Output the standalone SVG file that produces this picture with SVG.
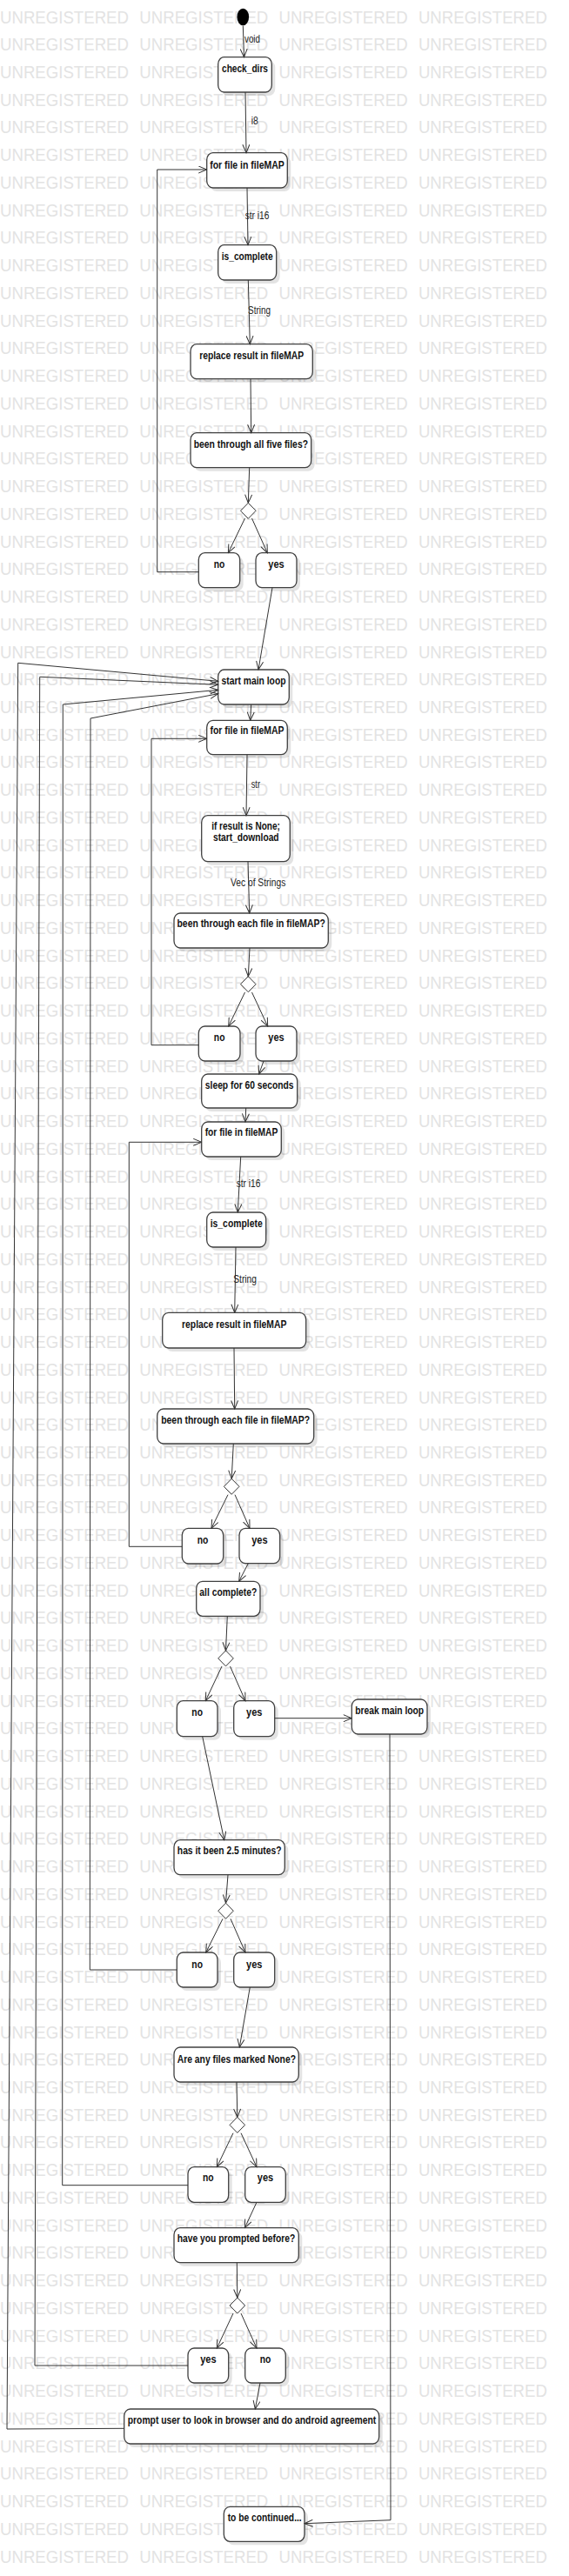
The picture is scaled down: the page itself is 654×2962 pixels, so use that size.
<svg xmlns="http://www.w3.org/2000/svg" xmlns:xlink="http://www.w3.org/1999/xlink" width="654" height="2962" viewBox="0 0 654 2962">
<style>
.wm{font-family:"Liberation Sans",Arial,sans-serif;font-size:20.6px;fill:#e3e3e3}
.sh{fill:#000;fill-opacity:.11}
.b{fill:#fff;stroke:#404040;stroke-width:1.3}
.t{font-family:"Liberation Sans",Arial,sans-serif;font-weight:bold;font-size:13px;fill:#111;text-anchor:middle}
.c path{fill:none;stroke:#333;stroke-width:1;marker-end:url(#a)}
.l{font-family:"Liberation Sans",Arial,sans-serif;font-size:12px;fill:#222}
.dm{fill:#fff;stroke:#333;stroke-width:1}
</style>
<defs>
<marker id="a" viewBox="0 0 11 9" refX="10" refY="4.5" markerWidth="11" markerHeight="9" markerUnits="userSpaceOnUse" orient="auto"><path d="M0.5,0.5 L10,4.5 L0.5,8.5" fill="none" stroke="#333" stroke-width="1"/></marker>
<g id="wm" class="wm"><text x="0" y="0" textLength="148" lengthAdjust="spacingAndGlyphs">UNREGISTERED</text><text x="160.3" y="0" textLength="148" lengthAdjust="spacingAndGlyphs">UNREGISTERED</text><text x="320.6" y="0" textLength="148" lengthAdjust="spacingAndGlyphs">UNREGISTERED</text><text x="480.9" y="0" textLength="148" lengthAdjust="spacingAndGlyphs">UNREGISTERED</text></g>
</defs>
<rect width="654" height="2962" fill="#fff"/>
<g id="watermark">
<use xlink:href="#wm" y="26.5"/><use xlink:href="#wm" y="58.24"/><use xlink:href="#wm" y="89.98"/><use xlink:href="#wm" y="121.72"/><use xlink:href="#wm" y="153.46"/><use xlink:href="#wm" y="185.2"/><use xlink:href="#wm" y="216.94"/><use xlink:href="#wm" y="248.68"/><use xlink:href="#wm" y="280.42"/><use xlink:href="#wm" y="312.16"/>
<use xlink:href="#wm" y="343.9"/><use xlink:href="#wm" y="375.64"/><use xlink:href="#wm" y="407.38"/><use xlink:href="#wm" y="439.12"/><use xlink:href="#wm" y="470.86"/><use xlink:href="#wm" y="502.6"/><use xlink:href="#wm" y="534.34"/><use xlink:href="#wm" y="566.08"/><use xlink:href="#wm" y="597.82"/><use xlink:href="#wm" y="629.56"/>
<use xlink:href="#wm" y="661.3"/><use xlink:href="#wm" y="693.04"/><use xlink:href="#wm" y="724.78"/><use xlink:href="#wm" y="756.52"/><use xlink:href="#wm" y="788.26"/><use xlink:href="#wm" y="820"/><use xlink:href="#wm" y="851.74"/><use xlink:href="#wm" y="883.48"/><use xlink:href="#wm" y="915.22"/><use xlink:href="#wm" y="946.96"/>
<use xlink:href="#wm" y="978.7"/><use xlink:href="#wm" y="1010.44"/><use xlink:href="#wm" y="1042.18"/><use xlink:href="#wm" y="1073.92"/><use xlink:href="#wm" y="1105.66"/><use xlink:href="#wm" y="1137.4"/><use xlink:href="#wm" y="1169.14"/><use xlink:href="#wm" y="1200.88"/><use xlink:href="#wm" y="1232.62"/><use xlink:href="#wm" y="1264.36"/>
<use xlink:href="#wm" y="1296.1"/><use xlink:href="#wm" y="1327.84"/><use xlink:href="#wm" y="1359.58"/><use xlink:href="#wm" y="1391.32"/><use xlink:href="#wm" y="1423.06"/><use xlink:href="#wm" y="1454.8"/><use xlink:href="#wm" y="1486.54"/><use xlink:href="#wm" y="1518.28"/><use xlink:href="#wm" y="1550.02"/><use xlink:href="#wm" y="1581.76"/>
<use xlink:href="#wm" y="1613.5"/><use xlink:href="#wm" y="1645.24"/><use xlink:href="#wm" y="1676.98"/><use xlink:href="#wm" y="1708.72"/><use xlink:href="#wm" y="1740.46"/><use xlink:href="#wm" y="1772.2"/><use xlink:href="#wm" y="1803.94"/><use xlink:href="#wm" y="1835.68"/><use xlink:href="#wm" y="1867.42"/><use xlink:href="#wm" y="1899.16"/>
<use xlink:href="#wm" y="1930.9"/><use xlink:href="#wm" y="1962.64"/><use xlink:href="#wm" y="1994.38"/><use xlink:href="#wm" y="2026.12"/><use xlink:href="#wm" y="2057.86"/><use xlink:href="#wm" y="2089.6"/><use xlink:href="#wm" y="2121.34"/><use xlink:href="#wm" y="2153.08"/><use xlink:href="#wm" y="2184.82"/><use xlink:href="#wm" y="2216.56"/>
<use xlink:href="#wm" y="2248.3"/><use xlink:href="#wm" y="2280.04"/><use xlink:href="#wm" y="2311.78"/><use xlink:href="#wm" y="2343.52"/><use xlink:href="#wm" y="2375.26"/><use xlink:href="#wm" y="2407"/><use xlink:href="#wm" y="2438.74"/><use xlink:href="#wm" y="2470.48"/><use xlink:href="#wm" y="2502.22"/><use xlink:href="#wm" y="2533.96"/>
<use xlink:href="#wm" y="2565.7"/><use xlink:href="#wm" y="2597.44"/><use xlink:href="#wm" y="2629.18"/><use xlink:href="#wm" y="2660.92"/><use xlink:href="#wm" y="2692.66"/><use xlink:href="#wm" y="2724.4"/><use xlink:href="#wm" y="2756.14"/><use xlink:href="#wm" y="2787.88"/><use xlink:href="#wm" y="2819.62"/><use xlink:href="#wm" y="2851.36"/>
<use xlink:href="#wm" y="2883.1"/><use xlink:href="#wm" y="2914.84"/><use xlink:href="#wm" y="2946.58"/>
</g>

<g id="n_start"><ellipse cx="279.3" cy="19.5" rx="6.8" ry="9.8" fill="#000"/></g>
<g id="n_check_dirs"><rect class="sh" x="254.7" y="69.7" width="61.6" height="40.3" rx="7" ry="8"/><rect class="b" x="250.7" y="65.7" width="61.6" height="40.3" rx="7" ry="8"/><text class="t" x="281.5" y="83.3" textLength="53" lengthAdjust="spacingAndGlyphs">check_dirs</text></g>
<g id="n_for1"><rect class="sh" x="241.7" y="179.7" width="92.6" height="40.3" rx="7" ry="8"/><rect class="b" x="237.7" y="175.7" width="92.6" height="40.3" rx="7" ry="8"/><text class="t" x="284" y="194" textLength="85.7" lengthAdjust="spacingAndGlyphs">for file in fileMAP</text></g>
<g id="n_is_complete1"><rect class="sh" x="254.7" y="285.7" width="67" height="40.3" rx="7" ry="8"/><rect class="b" x="250.7" y="281.7" width="67" height="40.3" rx="7" ry="8"/><text class="t" x="284.2" y="298.5" textLength="59" lengthAdjust="spacingAndGlyphs">is_complete</text></g>
<g id="n_replace1"><rect class="sh" x="223" y="399.7" width="140.3" height="40" rx="7" ry="8"/><rect class="b" x="219" y="395.7" width="140.3" height="40" rx="7" ry="8"/><text class="t" x="289.15" y="412.7" textLength="120" lengthAdjust="spacingAndGlyphs">replace result in fileMAP</text></g>
<g id="n_been1"><rect class="sh" x="223" y="501.7" width="138.7" height="40" rx="7" ry="8"/><rect class="b" x="219" y="497.7" width="138.7" height="40" rx="7" ry="8"/><text class="t" x="288.35" y="515" textLength="131.3" lengthAdjust="spacingAndGlyphs">been through all five files?</text></g>
<g id="n_d1"><polygon class="dm" points="285.3,578.3 294.1,587.3 285.3,596.3 276.5,587.3"/></g>
<g id="n_no1"><rect class="sh" x="232.3" y="639.7" width="47.4" height="40" rx="7" ry="8"/><rect class="b" x="228.3" y="635.7" width="47.4" height="40" rx="7" ry="8"/><text class="t" x="252" y="653.3" textLength="12.6" lengthAdjust="spacingAndGlyphs">no</text></g>
<g id="n_yes1"><rect class="sh" x="298" y="639.7" width="47" height="40" rx="7" ry="8"/><rect class="b" x="294" y="635.7" width="47" height="40" rx="7" ry="8"/><text class="t" x="317.5" y="653.3" textLength="18.4" lengthAdjust="spacingAndGlyphs">yes</text></g>
<g id="n_main"><rect class="sh" x="254.7" y="774" width="81.6" height="40" rx="7" ry="8"/><rect class="b" x="250.7" y="770" width="81.6" height="40" rx="7" ry="8"/><text class="t" x="291.5" y="786.7" textLength="74" lengthAdjust="spacingAndGlyphs">start main loop</text></g>
<g id="n_for2"><rect class="sh" x="241.7" y="832.3" width="92.6" height="39.4" rx="7" ry="8"/><rect class="b" x="237.7" y="828.3" width="92.6" height="39.4" rx="7" ry="8"/><text class="t" x="284" y="844.3" textLength="85" lengthAdjust="spacingAndGlyphs">for file in fileMAP</text></g>
<g id="n_ifresult"><rect class="sh" x="235.7" y="941.7" width="101.6" height="53" rx="7" ry="8"/><rect class="b" x="231.7" y="937.7" width="101.6" height="53" rx="7" ry="8"/><text class="t" x="282.5" y="954" textLength="78.7" lengthAdjust="spacingAndGlyphs">if result is None;</text><text class="t" x="282.8" y="966.7" textLength="75.7" lengthAdjust="spacingAndGlyphs">start_download</text></g>
<g id="n_been2"><rect class="sh" x="204" y="1054" width="177.3" height="40" rx="7" ry="8"/><rect class="b" x="200" y="1050" width="177.3" height="40" rx="7" ry="8"/><text class="t" x="288.65" y="1066" textLength="170.3" lengthAdjust="spacingAndGlyphs">been through each file in fileMAP?</text></g>
<g id="n_d2"><polygon class="dm" points="285.3,1122.7 294.1,1131.7 285.3,1140.7 276.5,1131.7"/></g>
<g id="n_no2"><rect class="sh" x="232.3" y="1184" width="47.7" height="40" rx="7" ry="8"/><rect class="b" x="228.3" y="1180" width="47.7" height="40" rx="7" ry="8"/><text class="t" x="252.15" y="1196.7" textLength="12.6" lengthAdjust="spacingAndGlyphs">no</text></g>
<g id="n_yes2"><rect class="sh" x="298" y="1184" width="47" height="40" rx="7" ry="8"/><rect class="b" x="294" y="1180" width="47" height="40" rx="7" ry="8"/><text class="t" x="317.5" y="1196.7" textLength="18.4" lengthAdjust="spacingAndGlyphs">yes</text></g>
<g id="n_sleep"><rect class="sh" x="235.7" y="1239" width="110" height="39" rx="7" ry="8"/><rect class="b" x="231.7" y="1235" width="110" height="39" rx="7" ry="8"/><text class="t" x="286.7" y="1251.5" textLength="101.7" lengthAdjust="spacingAndGlyphs">sleep for 60 seconds</text></g>
<g id="n_for3"><rect class="sh" x="235.7" y="1294" width="91.6" height="40" rx="7" ry="8"/><rect class="b" x="231.7" y="1290" width="91.6" height="40" rx="7" ry="8"/><text class="t" x="277.5" y="1306" textLength="83.7" lengthAdjust="spacingAndGlyphs">for file in fileMAP</text></g>
<g id="n_is_complete2"><rect class="sh" x="241.7" y="1398" width="68" height="40" rx="7" ry="8"/><rect class="b" x="237.7" y="1394" width="68" height="40" rx="7" ry="8"/><text class="t" x="271.7" y="1410.5" textLength="60" lengthAdjust="spacingAndGlyphs">is_complete</text></g>
<g id="n_replace2"><rect class="sh" x="190.7" y="1513.3" width="165" height="40.7" rx="7" ry="8"/><rect class="b" x="186.7" y="1509.3" width="165" height="40.7" rx="7" ry="8"/><text class="t" x="269.2" y="1526.7" textLength="120.3" lengthAdjust="spacingAndGlyphs">replace result in fileMAP</text></g>
<g id="n_been3"><rect class="sh" x="184.7" y="1624" width="180" height="40" rx="7" ry="8"/><rect class="b" x="180.7" y="1620" width="180" height="40" rx="7" ry="8"/><text class="t" x="270.7" y="1636.7" textLength="171" lengthAdjust="spacingAndGlyphs">been through each file in fileMAP?</text></g>
<g id="n_d3"><polygon class="dm" points="266.2,1700.3 275,1709.3 266.2,1718.3 257.4,1709.3"/></g>
<g id="n_no3"><rect class="sh" x="213.3" y="1761.3" width="47.4" height="40.7" rx="7" ry="8"/><rect class="b" x="209.3" y="1757.3" width="47.4" height="40.7" rx="7" ry="8"/><text class="t" x="233" y="1775" textLength="12.6" lengthAdjust="spacingAndGlyphs">no</text></g>
<g id="n_yes3"><rect class="sh" x="279" y="1761.3" width="46.7" height="40.4" rx="7" ry="8"/><rect class="b" x="275" y="1757.3" width="46.7" height="40.4" rx="7" ry="8"/><text class="t" x="298.35" y="1775" textLength="18.4" lengthAdjust="spacingAndGlyphs">yes</text></g>
<g id="n_allcomplete"><rect class="sh" x="229.7" y="1822.3" width="73.3" height="40" rx="7" ry="8"/><rect class="b" x="225.7" y="1818.3" width="73.3" height="40" rx="7" ry="8"/><text class="t" x="262.35" y="1835" textLength="66" lengthAdjust="spacingAndGlyphs">all complete?</text></g>
<g id="n_d4"><polygon class="dm" points="259.5,1897.9 268.3,1906.9 259.5,1915.9 250.7,1906.9"/></g>
<g id="n_no4"><rect class="sh" x="207.3" y="1959.7" width="46.7" height="41" rx="7" ry="8"/><rect class="b" x="203.3" y="1955.7" width="46.7" height="41" rx="7" ry="8"/><text class="t" x="226.65" y="1973.3" textLength="12.6" lengthAdjust="spacingAndGlyphs">no</text></g>
<g id="n_yes4"><rect class="sh" x="272.7" y="1959.7" width="47" height="41" rx="7" ry="8"/><rect class="b" x="268.7" y="1955.7" width="47" height="41" rx="7" ry="8"/><text class="t" x="292.2" y="1973.3" textLength="18.4" lengthAdjust="spacingAndGlyphs">yes</text></g>
<g id="n_break"><rect class="sh" x="408.3" y="1958" width="86.7" height="40" rx="7" ry="8"/><rect class="b" x="404.3" y="1954" width="86.7" height="40" rx="7" ry="8"/><text class="t" x="447.65" y="1970.7" textLength="79" lengthAdjust="spacingAndGlyphs">break main loop</text></g>
<g id="n_minutes"><rect class="sh" x="204" y="2119.7" width="127.3" height="40" rx="7" ry="8"/><rect class="b" x="200" y="2115.7" width="127.3" height="40" rx="7" ry="8"/><text class="t" x="263.65" y="2132.3" textLength="119.6" lengthAdjust="spacingAndGlyphs">has it been 2.5 minutes?</text></g>
<g id="n_d5"><polygon class="dm" points="259.5,2188.2 268.3,2197.2 259.5,2206.2 250.7,2197.2"/></g>
<g id="n_no5"><rect class="sh" x="207.3" y="2249" width="46.7" height="40" rx="7" ry="8"/><rect class="b" x="203.3" y="2245" width="46.7" height="40" rx="7" ry="8"/><text class="t" x="226.65" y="2262.7" textLength="12.6" lengthAdjust="spacingAndGlyphs">no</text></g>
<g id="n_yes5"><rect class="sh" x="272.7" y="2249" width="47" height="40" rx="7" ry="8"/><rect class="b" x="268.7" y="2245" width="47" height="40" rx="7" ry="8"/><text class="t" x="292.2" y="2262.7" textLength="18.4" lengthAdjust="spacingAndGlyphs">yes</text></g>
<g id="n_anynone"><rect class="sh" x="204" y="2358" width="143.3" height="40" rx="7" ry="8"/><rect class="b" x="200" y="2354" width="143.3" height="40" rx="7" ry="8"/><text class="t" x="271.85" y="2371.7" textLength="136.3" lengthAdjust="spacingAndGlyphs">Are any files marked None?</text></g>
<g id="n_d6"><polygon class="dm" points="272.8,2434.4 281.6,2443.4 272.8,2452.4 264,2443.4"/></g>
<g id="n_no6"><rect class="sh" x="220" y="2495.7" width="46.7" height="40.6" rx="7" ry="8"/><rect class="b" x="216" y="2491.7" width="46.7" height="40.6" rx="7" ry="8"/><text class="t" x="239.35" y="2508.3" textLength="12.6" lengthAdjust="spacingAndGlyphs">no</text></g>
<g id="n_yes6"><rect class="sh" x="285.7" y="2495.7" width="46.6" height="40.6" rx="7" ry="8"/><rect class="b" x="281.7" y="2491.7" width="46.6" height="40.6" rx="7" ry="8"/><text class="t" x="305" y="2508.3" textLength="18.4" lengthAdjust="spacingAndGlyphs">yes</text></g>
<g id="n_prompted"><rect class="sh" x="204" y="2565.7" width="143.3" height="40" rx="7" ry="8"/><rect class="b" x="200" y="2561.7" width="143.3" height="40" rx="7" ry="8"/><text class="t" x="271.5" y="2578.3" textLength="135.6" lengthAdjust="spacingAndGlyphs">have you prompted before?</text></g>
<g id="n_d7"><polygon class="dm" points="272.8,2642 281.6,2651 272.8,2660 264,2651"/></g>
<g id="n_yes7"><rect class="sh" x="220" y="2704" width="46.7" height="40" rx="7" ry="8"/><rect class="b" x="216" y="2700" width="46.7" height="40" rx="7" ry="8"/><text class="t" x="239.35" y="2716.7" textLength="18.4" lengthAdjust="spacingAndGlyphs">yes</text></g>
<g id="n_no7"><rect class="sh" x="285.7" y="2704" width="46.6" height="40" rx="7" ry="8"/><rect class="b" x="281.7" y="2700" width="46.6" height="40" rx="7" ry="8"/><text class="t" x="305" y="2716.7" textLength="12.6" lengthAdjust="spacingAndGlyphs">no</text></g>
<g id="n_prompt"><rect class="sh" x="146.7" y="2774" width="293" height="40" rx="7" ry="8"/><rect class="b" x="142.7" y="2770" width="293" height="40" rx="7" ry="8"/><text class="t" x="289.5" y="2786.7" textLength="285.6" lengthAdjust="spacingAndGlyphs">prompt user to look in browser and do android agreement</text></g>
<g id="n_tbc"><rect class="sh" x="261.3" y="2886.3" width="92.7" height="40" rx="7" ry="8"/><rect class="b" x="257.3" y="2882.3" width="92.7" height="40" rx="7" ry="8"/><text class="t" x="304.2" y="2899.3" textLength="85" lengthAdjust="spacingAndGlyphs">to be continued...</text></g>

<g id="connectors" class="c">
<path d="M279.3,29.5 L280.5,65.7"/>
<path d="M282,106 L283,175.7"/>
<path d="M284,216 L285,281.7"/>
<path d="M285.3,322 L287.3,395.7"/>
<path d="M288,435.7 L288.7,497.7"/>
<path d="M286.7,537.7 L285.3,578.3"/>
<path d="M281.5,596 L262.3,635.7"/>
<path d="M289.5,596 L307.3,635.7"/>
<path d="M228.3,657.7 L180.7,657.7 L180.7,195 L237.7,195"/>
<path d="M313,675.7 L297,770"/>
<path d="M288.7,810 L287.7,828.3"/>
<path d="M284,867.7 L283,937.7"/>
<path d="M285,990.7 L286.7,1050"/>
<path d="M287,1090 L285.3,1122.7"/>
<path d="M281.5,1141 L262.7,1180"/>
<path d="M289.5,1141 L307.7,1180"/>
<path d="M228.3,1201.7 L174,1201.7 L174,849.3 L237.7,849.3"/>
<path d="M303,1220 L297.7,1235"/>
<path d="M282.7,1274 L282,1290"/>
<path d="M276.7,1330 L273.3,1394"/>
<path d="M271,1434 L269.7,1509.3"/>
<path d="M269,1550 L269.7,1620"/>
<path d="M268.3,1660 L266.2,1700.3"/>
<path d="M262,1718.7 L243,1757.3"/>
<path d="M270,1718.7 L287,1757.3"/>
<path d="M209.3,1778.3 L148.3,1778.3 L148.3,1313.3 L231.7,1313.3"/>
<path d="M285.3,1797.7 L274.7,1818.3"/>
<path d="M261.3,1858.3 L259.5,1897.9"/>
<path d="M255,1916 L236.3,1955.7"/>
<path d="M264.5,1916 L282,1955.7"/>
<path d="M315.7,1975.7 L404.3,1975.7"/>
<path d="M232.7,1996.7 L257.7,2115.7"/>
<path d="M262,2155.7 L259.5,2188.2"/>
<path d="M256,2206.3 L236.7,2245"/>
<path d="M265,2206.3 L282,2245"/>
<path d="M203.3,2265 L103.3,2265 L104,826 L250.7,797.7"/>
<path d="M287.3,2285 L275.3,2354"/>
<path d="M272,2394 L272.8,2434.4"/>
<path d="M268,2452.7 L249.3,2491.7"/>
<path d="M277,2452.7 L295,2491.7"/>
<path d="M216,2512.7 L71.7,2512.7 L72.3,810 L250.7,793.3"/>
<path d="M295,2532.3 L281.3,2561.7"/>
<path d="M272.3,2601.7 L272.8,2642"/>
<path d="M268,2660 L249.3,2700"/>
<path d="M277,2660 L295,2700"/>
<path d="M216,2720 L40,2720 L45.7,778.3 L250.7,787.3"/>
<path d="M299,2740 L293.3,2770"/>
<path d="M142.7,2792.3 L8,2793 L20.7,762.3 L250.7,783.3"/>
<path d="M448,1994 L449,2897.7 L350,2901.7"/>
</g>
<g id="labels">
<text class="l" x="281" y="49" textLength="18" lengthAdjust="spacingAndGlyphs">void</text>
<text class="l" x="288.7" y="143" textLength="8" lengthAdjust="spacingAndGlyphs">i8</text>
<text class="l" x="281.7" y="251.5" textLength="27.6" lengthAdjust="spacingAndGlyphs">str i16</text>
<text class="l" x="285" y="361" textLength="26" lengthAdjust="spacingAndGlyphs">String</text>
<text class="l" x="288.7" y="906" textLength="10.3" lengthAdjust="spacingAndGlyphs">str</text>
<text class="l" x="265" y="1019" textLength="63.3" lengthAdjust="spacingAndGlyphs">Vec of Strings</text>
<text class="l" x="271.7" y="1365" textLength="27.6" lengthAdjust="spacingAndGlyphs">str i16</text>
<text class="l" x="268.3" y="1475" textLength="26.7" lengthAdjust="spacingAndGlyphs">String</text>
</g>
</svg>
